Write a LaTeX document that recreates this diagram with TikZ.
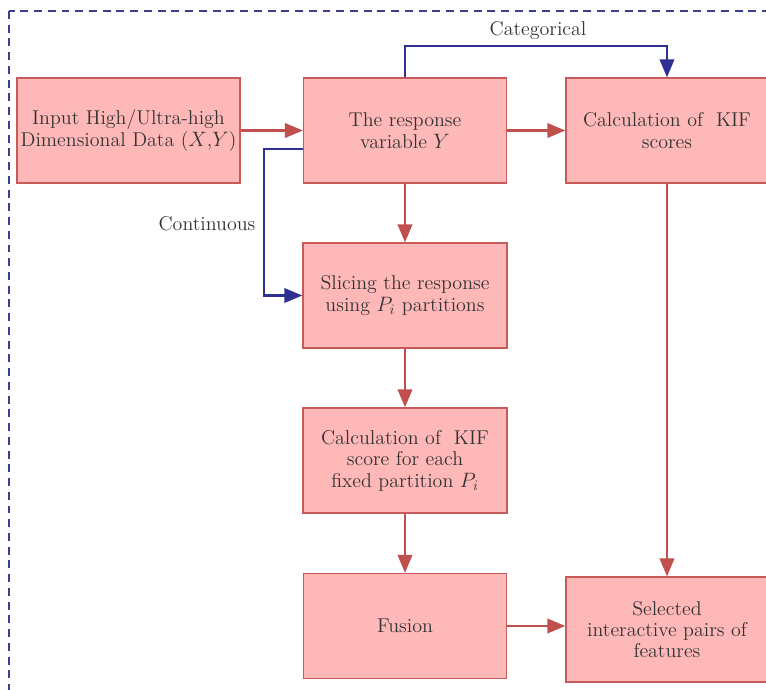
\documentclass[tikz,border=0pt]{standalone}
\usetikzlibrary{arrows.meta}

\definecolor{boxfill}{HTML}{FFB8B8}
\definecolor{boxline}{HTML}{C95A5A}
\definecolor{flowred}{HTML}{C0504D}
\definecolor{flowblue}{HTML}{2E3192}
\definecolor{frameblue}{HTML}{3A3F8F}

\begin{document}
\begin{tikzpicture}[x=0.0243cm, y=-0.0243cm,
  stagebox/.style={rectangle, draw=boxline, line width=0.9pt, fill=boxfill, inner xsep=2pt,
    minimum height=2.55cm, align=center, font=\fontsize{13.8}{14.8}\selectfont, text=black!80},
  redflow/.style={draw=flowred, line width=1.7pt, -{Triangle[length=12.5pt,width=10pt]}},
  blueflow/.style={draw=flowblue, line width=1.7pt, -{Triangle[length=12.5pt,width=10pt]}},
  branch/.style={font=\fontsize{13.8}{14.8}\selectfont, text=black!80}]

  \useasboundingbox (0,0) rectangle (766,689);

  % --- dashed frame ---
  \draw[frameblue, line width=0.8pt, dash pattern=on 5.5pt off 4pt] (9,11) rectangle (800,720);

  % --- stages ---
  \node[stagebox, minimum width=5.42cm] (input) at (128.5,130.5) {Input High/Ultra-high\\Dimensional Data ($X$,$Y$)};
  \node[stagebox, minimum width=4.93cm] (resp) at (405,130.5) {The response\\variable $Y$};
  \node[stagebox, minimum width=4.91cm] (kif) at (667,130.5) {Calculation of\ \ KIF\\scores};
  \node[stagebox, minimum width=4.96cm] (slice) at (405,295.5) {Slicing the response\\using $P_i$ partitions};
  \node[stagebox, minimum width=4.96cm] (part) at (405,460.5) {Calculation of\ \ KIF\\score for each\\fixed partition $P_i$};
  \node[stagebox, minimum width=4.93cm] (fusion) at (405,626) {Fusion};
  \node[stagebox, minimum width=4.91cm] (select) at (667,629.5) {Selected\\interactive pairs of\\features};

  % --- branch labels ---
  \node[branch] (cat) at (538,31) {Categorical};
  \node[branch] (cont) at (207,224) {Continuous};
  \coordinate (top) at (405,46);
  \coordinate (bend) at (264,149);

  % --- main chain ---
  \draw[redflow] (input) -- (resp);
  \draw[redflow] (resp) -- (kif);
  \draw[redflow] (resp) -- (slice);
  \draw[redflow] (slice) -- (part);
  \draw[redflow] (part) -- (fusion);
  \draw[redflow] (fusion.east) -- (fusion.east -| select.west);
  \draw[redflow] (kif) -- (select);

  % --- categorical / continuous ---
  \draw[blueflow] (resp.north) -- (top) -| (kif.north);
  \draw[blueflow] (resp.west |- bend) -- (bend) |- (slice.west);

\end{tikzpicture}
\end{document}
